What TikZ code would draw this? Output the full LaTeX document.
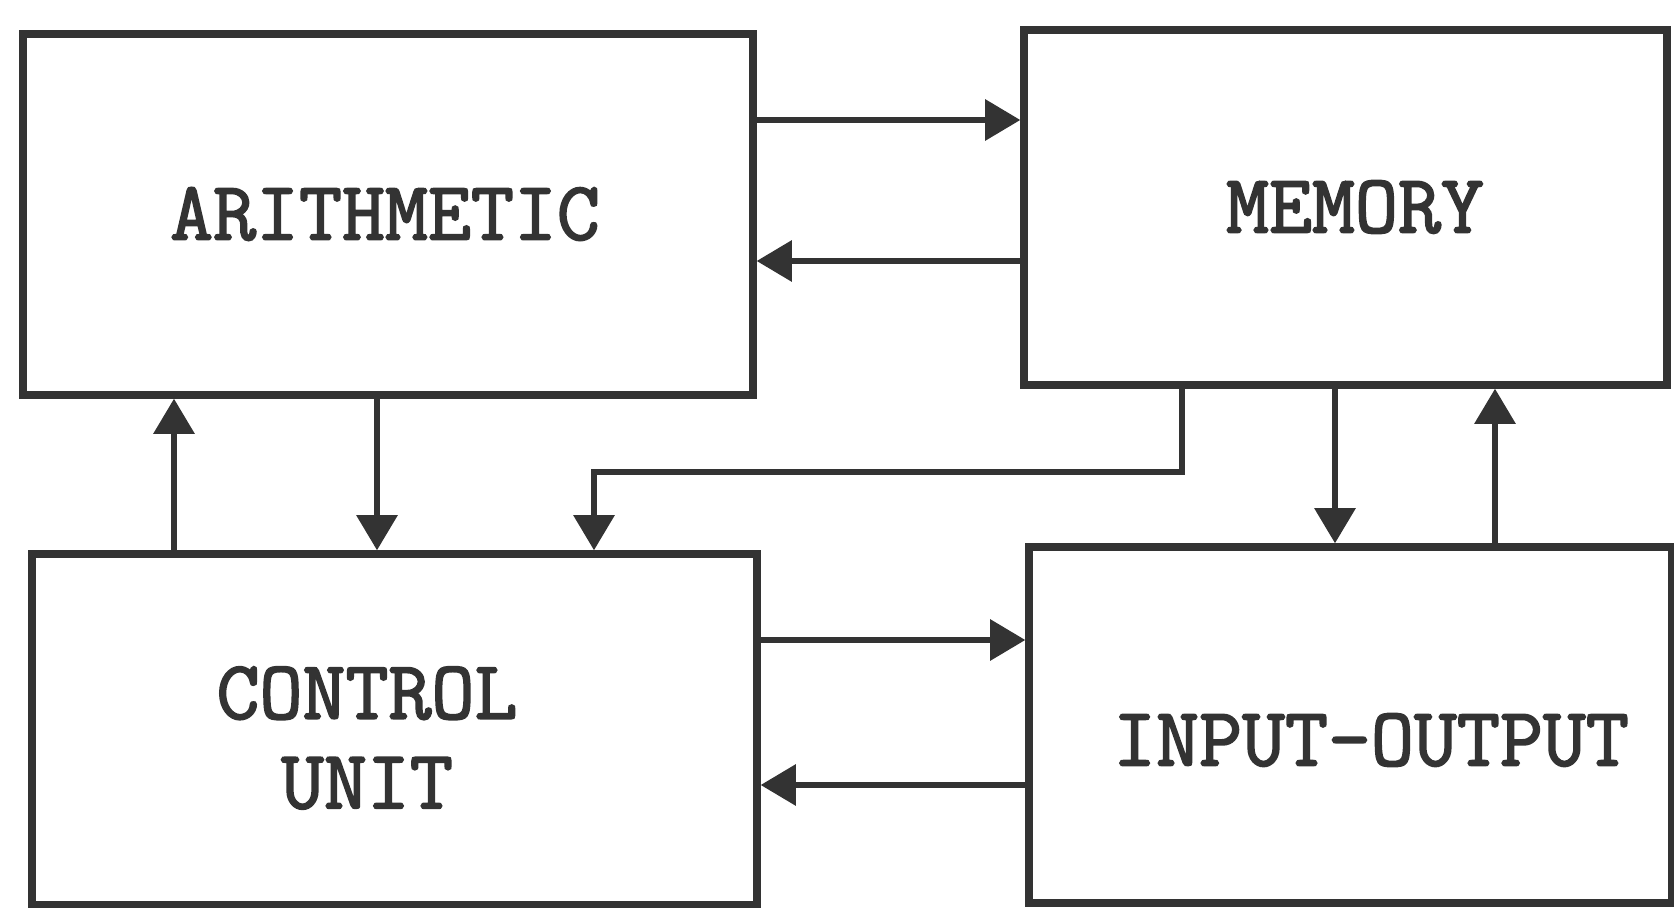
\documentclass[tikz,border=0pt]{standalone}
\usepackage{fontspec}
\newfontfamily\tw{Latin Modern Mono}[FakeBold=2.2]
\usetikzlibrary{arrows.meta}
\definecolor{ink}{HTML}{333333}
\tikzset{
  unitbox/.style={draw=ink, line width=4.3pt, rectangle, inner sep=0pt},
  lbl/.style={text=ink, font=\tw\fontsize{47.5}{51}\selectfont, align=center, inner sep=0pt},
  arr/.style={draw=ink, line width=2.9pt, -{Triangle[length=20pt, width=23pt]}},
}
\begin{document}
\begin{tikzpicture}[x=0.02cm, y=-0.02cm]
\useasboundingbox (0,0) rectangle (1674,908);
% boxes
\node[unitbox, minimum width=14.6cm, minimum height=7.22cm] (A) at (388,214.5) {};
\node[unitbox, minimum width=12.86cm, minimum height=7.10cm] (M) at (1345.5,207.5) {};
\node[unitbox, minimum width=14.5cm, minimum height=7.02cm] (C) at (394.5,729.5) {};
\node[unitbox, minimum width=12.86cm, minimum height=7.12cm] (IO) at (1350.5,725) {};
% labels
\node[lbl] (tA) at (385,214) {ARITHMETIC};
\node[lbl] (tM) at (1355,207) {MEMORY};
\node[lbl] (tC) at (367,738) {CONTROL\\UNIT};
\node[lbl] (tIO) at (1371,740) {INPUT-OUTPUT};
% guide coordinates
\coordinate (x1) at (174,0);
\coordinate (x2) at (377,0);
\coordinate (x3) at (594,0);
\coordinate (x4) at (1182,0);
\coordinate (x5) at (1335,0);
\coordinate (x6) at (1495,0);
\coordinate (y1) at (0,120);
\coordinate (y2) at (0,261);
\coordinate (y3) at (0,472);
\coordinate (y4) at (0,640);
\coordinate (y5) at (0,785);
% connectors
\draw[arr] (A.east |- y1) -- (M.west |- y1);
\draw[arr] (M.west |- y2) -- (A.east |- y2);
\draw[arr] (C.north -| x1) -- (A.south -| x1);
\draw[arr] (A.south -| x2) -- (C.north -| x2);
\draw[arr] (M.south -| x4) |- (y3 -| x3) -- (C.north -| x3);
\draw[arr] (M.south -| x5) -- (IO.north -| x5);
\draw[arr] (IO.north -| x6) -- (M.south -| x6);
\draw[arr] (C.east |- y4) -- (IO.west |- y4);
\draw[arr] (IO.west |- y5) -- (C.east |- y5);
\end{tikzpicture}
\end{document}
